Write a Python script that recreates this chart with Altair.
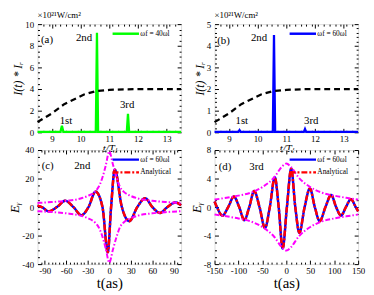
import altair as alt
import pandas as pd

SERIF = "Liberation Serif"

# ---------------- data ----------------
# panel (a)
a_spike_t = [8.5, 9.30, 9.35, 9.40, 10.53, 10.57, 10.61, 11.61, 11.65, 11.69, 13.5]
a_spike_I = [0.04, 0.04, 0.6, 0.04, 0.04, 9.2, 0.04, 0.04, 1.7, 0.04, 0.04]
a_env_t = [8.5, 9.0, 9.43, 10.12, 10.52, 11.0, 11.5, 12.0, 13.5]
a_env_I = [0.95, 1.75, 2.6, 3.5, 3.8, 3.92, 3.97, 4.0, 4.0]
a_label = "ωf = 40ωl"
a_note_x = [8.83, 10.12, 9.49, 11.62]
a_note_y = [8.5, 8.7, 1.0, 2.55]
a_note_txt = ["(a)", "2nd", "1st", "3rd"]

# panel (b)
b_spike_t = [8.5, 9.33, 9.37, 9.41, 10.53, 10.57, 10.61, 11.61, 11.65, 11.69, 13.5]
b_spike_I = [0.02, 0.02, 0.1, 0.02, 0.02, 4.5, 0.02, 0.02, 0.15, 0.02, 0.02]
b_env_t = [8.5, 9.0, 9.43, 10.12, 10.52, 11.0, 11.5, 12.0, 13.5]
b_env_I = [0.47, 0.87, 1.3, 1.75, 1.9, 1.96, 1.99, 2.0, 2.0]
b_label = "ωf = 60ωl"
b_note_x = [8.81, 10.05, 9.45, 11.87]
b_note_y = [4.24, 4.36, 0.51, 0.51]
b_note_txt = ["(b)", "2nd", "1st", "3rd"]

# panel (c)
c_t = [-100, -94, -84.4, -73, -61.4, -50, -38.9, -29, -19.1, -9.5, -2.1, 2.5,
       7.6, 17.5, 27.8, 39, 49.9, 60, 70.6, 81, 92.2, 100]
c_E = [1.0, 0, -3.0, 0, 4.4, 0, -5.7, 0, 10.8, 0, -31.7, 0,
       26.2, 0, -9.9, 0, 6.2, 0, -4.1, 0, 3.2, 1.3]
c_env_t = [-100, -80, -60, -40, -30, -20, -15, -10, -5, 0, 5, 10, 15, 20, 30, 40, 60, 80, 100]
c_env_up = [2.9, 3.5, 4.4, 6.0, 7.8, 10.8, 14.0, 20.0, 29.0, 39.0, 30.0, 21.0, 14.0, 10.8, 7.8, 6.0, 4.4, 3.5, 2.9]
c_env_lo = [-2.9, -3.5, -4.4, -6.0, -7.8, -10.8, -14.0, -20.0, -29.0, -39.0, -30.0, -21.0, -14.0, -10.8, -7.8, -6.0, -4.4, -3.5, -2.9]
c_note_x = [-85.8, -37.6]
c_note_y = [28.5, 28.5]
c_note_txt = ["(c)", "2nd"]

# panel (d)
d_t = [-150, -145, -133.6, -121.5, -109.6, -98.5, -87.7, -77.5, -67.2, -56, -44.7, -34.5,
       -24.1, -16, -7.7, 1.2, 10.2, 18.7, 27.2, 38.2, 49.2, 59.5, 69.7, 81.7, 93.7, 104,
       114.2, 124.5, 134.8, 145, 150]
d_E = [0.78, 0, -1.2, 0, 1.47, 0, -1.84, 0, 2.25, 0, -2.94, 0,
       4.18, 0, -5.8, 0, 5.38, 0, -3.6, 0, 2.62, 0, -1.98, 0, 1.7, 0,
       -1.2, 0, 1.1, 0, -0.6]
d_env_t = [-150, -125, -100, -75, -50, -25, -10, 0, 10, 25, 50, 75, 100, 125, 150]
d_env_up = [1.05, 1.3, 1.6, 2.0, 2.8, 4.2, 5.6, 6.1, 5.6, 4.2, 2.8, 2.0, 1.6, 1.3, 1.05]
d_env_lo = [-1.05, -1.3, -1.6, -2.0, -2.8, -4.2, -5.6, -6.1, -5.6, -4.2, -2.8, -2.0, -1.6, -1.3, -1.05]
d_note_x = [-128, -62.4]
d_note_y = [5.6, 5.6]
d_note_txt = ["(d)", "3rd"]

sim_label = "ωf = 60ωl"
ana_label = "Analytical"

# tick values
a_x_major = [9, 10, 11, 12, 13]
a_y_major = [0, 2, 4, 6, 8, 10]
b_y_major = [0, 1, 2, 3, 4, 5]
c_x_major = [-90, -60, -30, 0, 30, 60, 90]
c_y_major = [-40, -20, 0, 20, 40]
d_x_major = [-150, -100, -50, 0, 50, 100, 150]
d_y_major = [-8, -4, 0, 4, 8]


def minors(lo, hi, step, major_step):
    out = []
    n = int(round((hi - lo) / step))
    for i in range(1, n):
        v = round(lo + i * step, 4)
        if abs(v / major_step - round(v / major_step)) > 1e-6:
            out.append(v)
    return out


def mk_axis(orient, major, minor, step, title=None, labels=True, tsize=12,
            tstyle="italic", tpad=2, lpad=2):
    test = f"abs(datum.value/{step} - round(datum.value/{step})) < 0.001"
    kw = dict(orient=orient, values=sorted(major + minor), domain=False, offset=-4,
              tickSize=4, tickColor="black", tickWidth=1,
              tickDash={"condition": {"test": test, "value": []}, "value": [0, 2, 2, 2]},
              grid=False, labels=labels)
    if labels:
        kw.update(labelExpr=f"({test}) ? ('' + round(datum.value)) : ''", labelFont=SERIF,
                  labelFontSize=9, labelColor="black", labelPadding=lpad,
                  labelFlush=False, labelOverlap=False)
    if title is not None:
        kw.update(title=title, titleFont=SERIF, titleFontSize=tsize, titleFontStyle=tstyle,
                  titleFontWeight="normal", titleColor="black", titlePadding=tpad)
    else:
        kw["title"] = None
    return alt.Axis(**kw)


def legend():
    return alt.Legend(orient="none", legendX=86, legendY=6, title=None,
                      symbolType="M-6,0L6,0", symbolSize=20,
                      symbolStrokeWidth=2.5, labelFont=SERIF, labelFontSize=7.5,
                      labelColor="black", labelOffset=11, padding=0, rowPadding=2)


def notes_layer(xs, ys, txt, xs_scale, ys_scale, size):
    df = pd.DataFrame({"x": xs, "y": ys, "txt": txt})
    return alt.Chart(df).mark_text(font=SERIF, fontSize=size, color="black",
                                   align="center", baseline="middle").encode(
        x=alt.X("x:Q", scale=xs_scale, axis=None),
        y=alt.Y("y:Q", scale=ys_scale, axis=None),
        text="txt:N")


def intensity_panel(spk_t, spk_I, env_t, env_I, lab, colr, ydom, ymaj, ystep, ymin_step,
                    nx, ny, nt, h):
    xs = alt.Scale(domain=[8.5, 13.5], nice=False, zero=False)
    ys = alt.Scale(domain=ydom, nice=False, zero=False)
    x_min = minors(8.5, 13.5, 0.2, 1)
    y_min = minors(ydom[0], ydom[1], ymin_step, ystep)
    spk = pd.DataFrame({"t": spk_t, "I": spk_I, "s": lab})
    env = pd.DataFrame({"t": env_t, "I": env_I})
    l1 = alt.Chart(spk).mark_line(strokeWidth=2.3).encode(
        x=alt.X("t:Q", scale=xs, axis=mk_axis("bottom", a_x_major, x_min, 1, "t/Tₗ", tsize=11, tpad=0)),
        y=alt.Y("I:Q", scale=ys, axis=mk_axis("left", ymaj, y_min, ystep, "I(t) * Iᵣ", tsize=12,
                                               tpad=0, lpad=4)),
        color=alt.Color("s:N", scale=alt.Scale(domain=[lab], range=[colr]), legend=legend()))
    l2 = alt.Chart(env).mark_line(color="black", strokeWidth=2.3, strokeDash=[6, 4]).encode(
        x=alt.X("t:Q", scale=xs, axis=None), y=alt.Y("I:Q", scale=ys, axis=None))
    l3 = notes_layer(nx, ny, nt, xs, ys, 11)
    l4 = alt.Chart(env).mark_point(opacity=0).encode(
        x=alt.X("t:Q", scale=xs, axis=mk_axis("top", a_x_major, x_min, 1, labels=False)),
        y=alt.Y("I:Q", scale=ys, axis=mk_axis("right", ymaj, y_min, ystep, labels=False)))
    return alt.layer(l1, l2, l3, l4).resolve_axis(x="independent", y="independent").properties(
        width=146, height=h,
        title=alt.Title("×10²¹W/cm²", anchor="start", frame="group", font=SERIF, fontSize=9,
                        fontWeight="normal", color="black", offset=0))


def field_panel(t, E, et, eu, el, xdom, xmaj, xstep, xmin_step, ydom, ymaj, ystep, ymin_step,
                nx, ny, nt, h):
    xs = alt.Scale(domain=xdom, nice=False, zero=False)
    ys = alt.Scale(domain=ydom, nice=False, zero=False)
    x_min = minors(xdom[0], xdom[1], xmin_step, xstep)
    y_min = minors(ydom[0], ydom[1], ymin_step, ystep)
    sim = pd.DataFrame({"t": t, "E": E, "s": sim_label})
    ana = pd.DataFrame({"t": t, "E": E, "s": ana_label})
    env = pd.DataFrame({"t": et, "up": eu, "lo": el})
    cscale = alt.Scale(domain=[sim_label, ana_label], range=["#0000ff", "#ff0000"])
    dscale = alt.Scale(domain=[sim_label, ana_label], range=[[1, 0], [6, 2, 2, 2]])
    l1 = alt.Chart(sim).mark_line(strokeWidth=2.5, interpolate="monotone").encode(
        x=alt.X("t:Q", scale=xs, axis=mk_axis("bottom", xmaj, x_min, xstep, "t(as)", tsize=15,
                                               tstyle="normal", tpad=0, lpad=3)),
        y=alt.Y("E:Q", scale=ys, axis=mk_axis("left", ymaj, y_min, ystep, "Eᵧ", tsize=13,
                                               tpad=0, lpad=4)),
        color=alt.Color("s:N", scale=cscale, legend=legend()),
        strokeDash=alt.StrokeDash("s:N", scale=dscale, legend=legend()))
    l2 = alt.Chart(ana).mark_line(strokeWidth=2.5, interpolate="monotone").encode(
        x=alt.X("t:Q", scale=xs, axis=None), y=alt.Y("E:Q", scale=ys, axis=None),
        color=alt.Color("s:N", scale=cscale, legend=legend()),
        strokeDash=alt.StrokeDash("s:N", scale=dscale, legend=legend()))
    l3 = alt.Chart(env).mark_line(color="#ff00ff", strokeWidth=2, strokeDash=[5, 2, 1.5, 2],
                                  interpolate="monotone").encode(
        x=alt.X("t:Q", scale=xs, axis=None), y=alt.Y("up:Q", scale=ys, axis=None))
    l4 = alt.Chart(env).mark_line(color="#ff00ff", strokeWidth=2, strokeDash=[5, 2, 1.5, 2],
                                  interpolate="monotone").encode(
        x=alt.X("t:Q", scale=xs, axis=None), y=alt.Y("lo:Q", scale=ys, axis=None))
    l5 = notes_layer(nx, ny, nt, xs, ys, 11)
    l6 = alt.Chart(env).mark_point(opacity=0).encode(
        x=alt.X("t:Q", scale=xs, axis=mk_axis("top", xmaj, x_min, xstep, labels=False)),
        y=alt.Y("up:Q", scale=ys, axis=mk_axis("right", ymaj, y_min, ystep, labels=False)))
    return alt.layer(l1, l2, l3, l4, l5, l6).resolve_axis(
        x="independent", y="independent").properties(width=146, height=h)


pa = intensity_panel(a_spike_t, a_spike_I, a_env_t, a_env_I, a_label, "#00ff00",
                     [0, 10], a_y_major, 2, 0.5, a_note_x, a_note_y, a_note_txt, 110)
pb = intensity_panel(b_spike_t, b_spike_I, b_env_t, b_env_I, b_label, "#0000ff",
                     [0, 5], b_y_major, 1, 0.2, b_note_x, b_note_y, b_note_txt, 110)
pc = field_panel(c_t, c_E, c_env_t, c_env_up, c_env_lo, [-100, 100], c_x_major, 30, 5,
                 [-40, 40], c_y_major, 20, 5, c_note_x, c_note_y, c_note_txt, 116)
pd_ = field_panel(d_t, d_E, d_env_t, d_env_up, d_env_lo, [-150, 150], d_x_major, 50, 10,
                  [-8, 8], d_y_major, 4, 1, d_note_x, d_note_y, d_note_txt, 116)

chart = alt.concat(pa, pb, pc, pd_, columns=2, spacing={"row": 18, "column": 34},
                   bounds="flush").resolve_scale(
    x="independent", y="independent", color="independent", strokeDash="independent"
).resolve_legend(color="independent", strokeDash="independent").properties(
    padding=0).configure_view(stroke="black", strokeWidth=1.5).configure(background="white")

chart.save("out.html", embed_options={"renderer": "svg", "actions": False})
